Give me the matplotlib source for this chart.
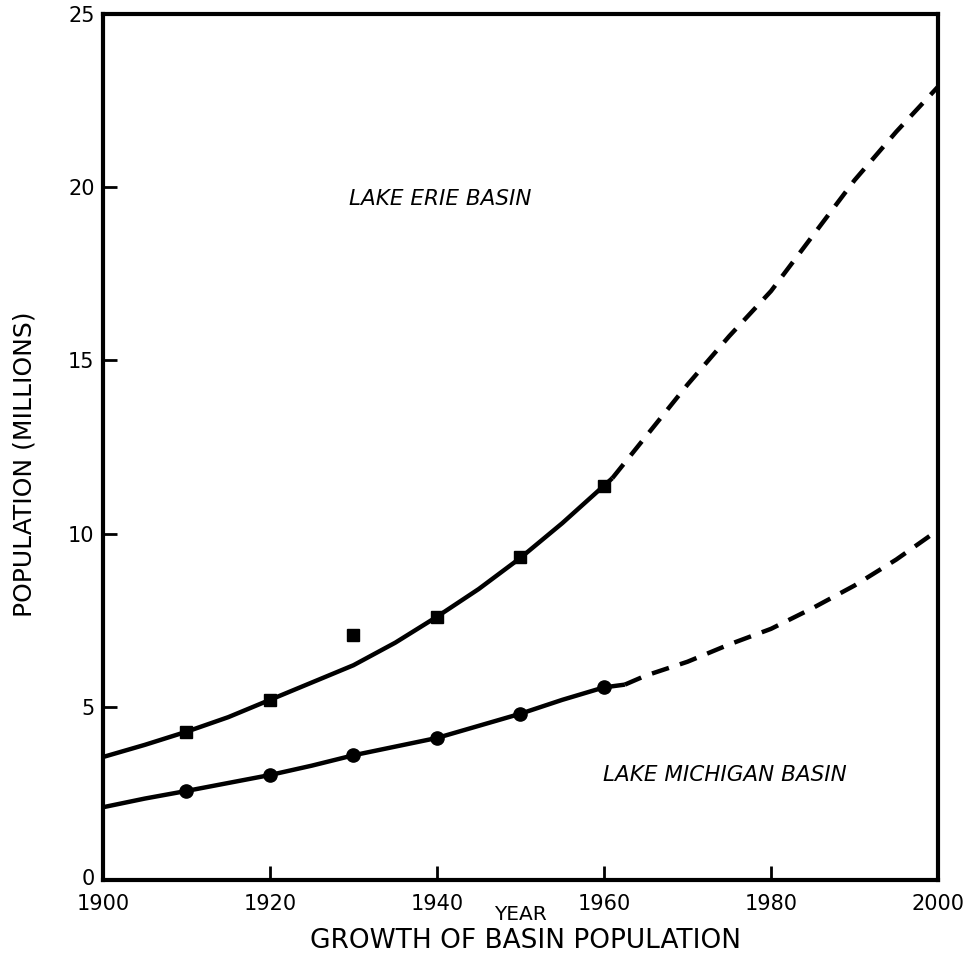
import matplotlib
matplotlib.use("Agg")
from matplotlib import pyplot as plt
import matplotlib.transforms as mtransforms

# observed points (squares = Lake Erie, circles = Lake Michigan)
obs_years = [1910, 1920, 1930, 1940, 1950, 1960]
erie_obs = [4.28, 5.2, 7.08, 7.6, 9.32, 11.37]
michigan_obs = [2.57, 3.03, 3.61, 4.1, 4.8, 5.56]

# fitted curves
erie_fit_years = [1900, 1905, 1910, 1915, 1920, 1925, 1930, 1935, 1940, 1945, 1950, 1955, 1961]
erie_fit = [3.55, 3.9, 4.28, 4.7, 5.2, 5.7, 6.2, 6.85, 7.6, 8.4, 9.3, 10.3, 11.6]
erie_proj_years = [1961, 1965, 1970, 1975, 1980, 1985, 1990, 1995, 2000]
erie_proj = [11.6, 12.8, 14.3, 15.7, 17.0, 18.6, 20.2, 21.6, 22.9]

mich_fit_years = [1900, 1905, 1910, 1915, 1920, 1925, 1930, 1935, 1940, 1945, 1950, 1955, 1960, 1962.5]
mich_fit = [2.1, 2.35, 2.57, 2.8, 3.03, 3.3, 3.6, 3.85, 4.1, 4.45, 4.8, 5.2, 5.56, 5.64]
mich_proj_years = [1962.5, 1965, 1970, 1975, 1980, 1985, 1990, 1995, 2000]
mich_proj = [5.64, 5.9, 6.3, 6.8, 7.25, 7.85, 8.5, 9.25, 10.1]

x_ticks = [1900, 1920, 1940, 1960, 1980, 2000]
y_ticks = [0, 5, 10, 15, 20, 25]

fig = plt.figure(figsize=(9.67, 9.59), dpi=100)
ax = fig.add_axes([0.1065, 0.0824, 0.8635, 0.903])

dash = (0, (4.0, 2.6))
ax.plot(erie_fit_years, erie_fit, color='black', lw=3.2, solid_capstyle='butt')
ax.plot(erie_proj_years, erie_proj, color='black', lw=3.2, linestyle=dash, dash_capstyle='butt')
ax.plot(mich_fit_years, mich_fit, color='black', lw=3.2, solid_capstyle='butt')
ax.plot(mich_proj_years, mich_proj, color='black', lw=3.2, linestyle=dash, dash_capstyle='butt')

ax.plot(obs_years, erie_obs, 's', color='black', markersize=9, zorder=3)
ax.plot(obs_years, michigan_obs, 'o', color='black', markersize=9.5, zorder=3)

ax.set_xlim(1900, 2000)
ax.set_ylim(0, 25)
ax.set_xticks(x_ticks)
ax.set_yticks(y_ticks)
ax.tick_params(axis='both', direction='in', length=10, width=2, labelsize=15, colors='black')
ax.tick_params(axis='x', pad=10)
ax.tick_params(axis='y', pad=6)
for lbl in ax.get_xticklabels() + ax.get_yticklabels():
    lbl.set_fontweight('medium')
# nudge the "0" label up a little so it clears "1900"
zero_lbl = ax.get_yticklabels()[0]
zero_lbl.set_transform(zero_lbl.get_transform() +
                       mtransforms.ScaledTranslation(0, 3 / 100, fig.dpi_scale_trans))
for s in ax.spines.values():
    s.set_linewidth(3)

ax.text(1940.4, 19.65, 'LAKE ERIE BASIN', style='italic', fontsize=15.5, ha='center', va='center')
ax.text(1974.5, 3.03, 'LAKE MICHIGAN BASIN', style='italic', fontsize=15.5, ha='center', va='center')

ax.set_xlabel('YEAR', fontsize=14.5)
ax.xaxis.set_label_coords(0.5, -0.029)
ax.set_ylabel('POPULATION (MILLIONS)', fontsize=18)
ax.yaxis.set_label_coords(-0.08, 0.48)
fig.text(0.543, 0.019, 'GROWTH OF BASIN POPULATION', fontsize=19, ha='center', va='center')

fig.savefig('out.png', dpi=100, facecolor='white')
